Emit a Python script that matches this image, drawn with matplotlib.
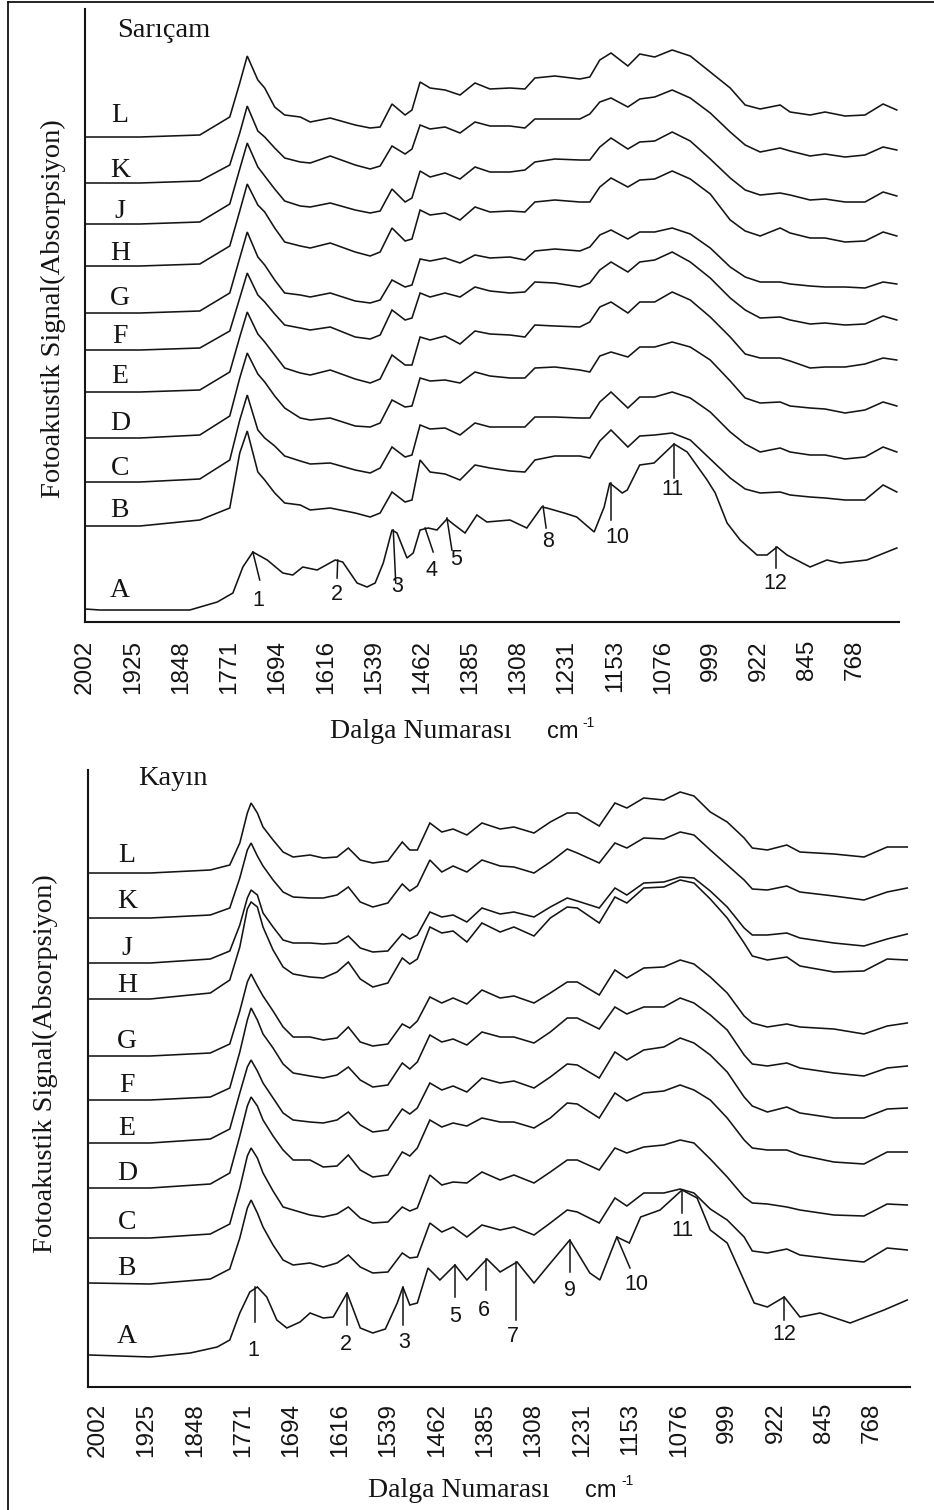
import matplotlib
matplotlib.use('Agg')
import matplotlib.pyplot as plt
from matplotlib.lines import Line2D

# ---------------- data ----------------
series_names = ['A', 'B', 'C', 'D', 'E', 'F', 'G', 'H', 'J', 'K', 'L']
tick_values = [2002, 1925, 1848, 1771, 1694, 1616, 1539, 1462, 1385, 1308,
               1231, 1153, 1076, 999, 922, 845, 768]

# --- Sarıçam (upper panel) ---
sar_wn = [2000, 1914, 1818, 1770, 1754, 1742, 1725, 1714, 1698, 1682,
          1657, 1641, 1609, 1569, 1545, 1529, 1510, 1489, 1478, 1465,
          1449, 1425, 1401, 1377, 1353, 1321, 1297, 1281, 1249, 1209,
          1193, 1177, 1159, 1132, 1113, 1089, 1061, 1032, 1000, 968,
          944, 920, 888, 872, 840, 816, 784, 752, 723, 701]
sar_B = [0, 0, 6, 18, 73, 95, 54, 46, 33, 23, 21, 16, 18, 13, 9, 13, 34, 24, 26, 66,
         54, 52, 46, 61, 58, 55, 54, 66, 70, 70, 68, 85, 96, 79, 90, 91, 93, 86, 67, 48,
         37, 33, 34, 31, 29, 28, 26, 26, 41, 34]
sar_C = [0, 0, 3, 22, 62, 87, 52, 44, 36, 26, 21, 18, 19, 12, 9, 14, 35, 25, 27, 57,
         53, 54, 47, 59, 55, 55, 55, 65, 65, 64, 64, 80, 90, 74, 85, 85, 90, 84, 70, 50,
         38, 30, 34, 30, 27, 27, 23, 25, 35, 30]
sar_D = [0, 0, 3, 22, 60, 85, 64, 56, 42, 30, 20, 18, 20, 12, 11, 15, 38, 31, 32, 60,
         57, 58, 55, 66, 62, 60, 60, 70, 71, 68, 66, 82, 86, 81, 91, 91, 96, 91, 78, 57,
         40, 35, 36, 32, 30, 29, 25, 28, 36, 32]
sar_E = [0, 0, 2, 20, 55, 80, 58, 50, 37, 24, 19, 17, 22, 13, 9, 13, 37, 27, 27, 55,
         52, 56, 48, 61, 58, 57, 55, 67, 66, 65, 70, 85, 90, 79, 90, 90, 100, 92, 75, 55,
         38, 34, 34, 31, 24, 25, 25, 28, 34, 32]
sar_F = [0, 0, 2, 19, 52, 77, 55, 48, 36, 25, 22, 20, 23, 13, 11, 15, 40, 30, 32, 57,
         53, 57, 53, 63, 59, 57, 58, 68, 67, 63, 67, 80, 88, 78, 88, 90, 98, 88, 72, 52,
         40, 32, 33, 30, 26, 27, 25, 26, 34, 30]
sar_G = [0, 0, 2, 20, 55, 81, 56, 48, 33, 20, 18, 16, 20, 12, 10, 13, 33, 26, 28, 54,
         52, 55, 50, 58, 55, 56, 53, 62, 64, 62, 66, 78, 83, 74, 81, 81, 85, 79, 65, 46,
         36, 31, 31, 29, 27, 26, 26, 25, 31, 29]
sar_H = [0, 0, 2, 20, 55, 82, 61, 54, 38, 24, 20, 18, 23, 14, 10, 14, 38, 25, 27, 56,
         51, 53, 46, 59, 54, 55, 54, 64, 66, 64, 64, 79, 88, 79, 86, 87, 95, 87, 72, 46,
         35, 30, 38, 33, 28, 28, 24, 25, 34, 30]
sar_J = [0, 0, 2, 20, 55, 81, 57, 48, 35, 23, 18, 17, 21, 14, 11, 13, 35, 22, 26, 53,
         47, 51, 45, 57, 52, 52, 54, 62, 65, 64, 64, 77, 86, 75, 82, 83, 92, 83, 65, 46,
         34, 29, 31, 29, 24, 25, 22, 22, 32, 28]
sar_K = [0, 0, 2, 18, 50, 77, 52, 46, 35, 25, 21, 20, 27, 18, 14, 17, 37, 29, 34, 58,
         54, 56, 50, 61, 57, 57, 55, 64, 64, 64, 69, 81, 85, 76, 84, 86, 93, 85, 70, 51,
         38, 31, 35, 32, 27, 29, 26, 28, 36, 33]
sar_L = [0, 0, 2, 20, 54, 81, 57, 49, 30, 22, 20, 15, 19, 12, 9, 10, 33, 22, 27, 55,
         49, 47, 42, 54, 48, 49, 48, 59, 61, 58, 60, 77, 84, 71, 83, 80, 87, 81, 65, 49,
         32, 28, 32, 25, 22, 25, 21, 22, 33, 27]
sar_A_wn = [2002, 1978, 1834, 1790, 1765, 1749, 1733, 1710, 1685, 1669,
            1653, 1630, 1601, 1589, 1566, 1550, 1537, 1524, 1510, 1502,
            1486, 1476, 1465, 1452, 1438, 1422, 1412, 1393, 1374, 1358,
            1321, 1294, 1270, 1262, 1234, 1214, 1186, 1170, 1161, 1141,
            1133, 1113, 1090, 1058, 1037, 1005, 992, 973, 952, 925,
            909, 893, 877, 840, 813, 792, 749, 701]
sar_A = [0, -1, -1, 7, 16, 42, 57, 49, 36, 34, 42, 39, 49, 47, 26, 22, 26, 46, 79, 76,
         51, 56, 79, 81, 79, 90, 85, 76, 94, 87, 89, 81, 102, 101, 96, 92, 77, 102, 126, 116,
         119, 144, 146, 165, 157, 129, 116, 86, 69, 54, 54, 62, 54, 42, 49, 46, 49, 61]
sar_offsets = [13, 96, 140, 184, 230, 272, 309, 356, 398, 439, 485]

sar_peak_labels = ['1', '2', '3', '4', '5', '8', '10', '11', '12']
sar_peak_tip_wn = [1733, 1597, 1508, 1457, 1422, 1268, 1159, 1058, 895]
sar_peak_tip_y = [70, 62, 92, 94, 104, 116, 139, 178, 75]
sar_peak_end_wn = [1722, 1598, 1504, 1444, 1414, 1263, 1159, 1058, 895]
sar_peak_end_y = [42, 44, 39, 70, 72, 94, 102, 144, 54]
sar_peak_txt_wn = [1725, 1598, 1502, 1446, 1407, 1260, 1149, 1061, 895]
sar_peak_txt_y = [21, 27, 35, 51, 62, 80, 84, 132, 38]

# --- Kayın (lower panel) ---
kay_wn = [2015, 1919, 1823, 1792, 1776, 1764, 1758, 1748, 1739, 1723,
          1707, 1691, 1664, 1643, 1621, 1603, 1584, 1564, 1540, 1517,
          1505, 1493, 1473, 1454, 1436, 1414, 1390, 1361, 1339, 1307,
          1281, 1254, 1238, 1203, 1178, 1159, 1132, 1100, 1074, 1052,
          1026, 999, 972, 959, 935, 904, 883, 829, 781, 744, 712]
kay_B = [0, -1, 4, 14, 45, 75, 83, 70, 56, 38, 23, 18, 20, 16, 20, 28, 16, 10, 11, 30,
         25, 26, 60, 51, 56, 46, 58, 53, 56, 48, 60, 73, 71, 60, 85, 77, 90, 90, 94, 90,
         74, 63, 46, 32, 30, 34, 28, 24, 21, 35, 33]
kay_C = [0, 0, 4, 14, 50, 82, 90, 80, 65, 47, 31, 28, 23, 21, 24, 31, 20, 15, 16, 31,
         27, 30, 63, 53, 56, 55, 66, 58, 63, 55, 66, 78, 78, 68, 90, 85, 91, 93, 98, 95,
         79, 61, 41, 35, 34, 31, 28, 23, 22, 34, 33]
kay_D = [0, 0, 4, 15, 52, 82, 91, 82, 68, 52, 38, 28, 28, 21, 22, 33, 18, 11, 13, 36,
         32, 40, 68, 61, 65, 62, 70, 66, 66, 60, 70, 85, 84, 70, 95, 87, 95, 97, 103, 98,
         88, 70, 48, 40, 38, 38, 33, 26, 24, 36, 36]
kay_E = [0, 0, 4, 14, 50, 76, 83, 72, 60, 45, 30, 23, 21, 20, 23, 31, 18, 11, 13, 34,
         29, 35, 60, 53, 57, 51, 65, 60, 62, 55, 66, 79, 78, 65, 91, 83, 93, 96, 105, 100,
         88, 71, 46, 37, 31, 36, 30, 25, 25, 34, 35]
kay_F = [0, 0, 3, 12, 48, 80, 92, 80, 66, 52, 36, 27, 24, 22, 25, 33, 20, 13, 15, 37,
         31, 38, 65, 58, 61, 55, 68, 63, 63, 57, 68, 82, 82, 71, 93, 86, 93, 93, 102, 97,
         85, 70, 45, 36, 34, 37, 32, 27, 24, 32, 34]
kay_G = [0, 0, 3, 12, 45, 74, 82, 70, 60, 45, 29, 19, 19, 16, 18, 29, 14, 10, 12, 32,
         28, 35, 59, 53, 58, 52, 66, 58, 60, 53, 63, 74, 74, 61, 86, 78, 88, 89, 96, 92,
         79, 63, 40, 33, 29, 32, 29, 27, 22, 30, 33]
kay_H = [0, 0, 6, 19, 52, 90, 97, 92, 72, 49, 32, 25, 22, 21, 27, 37, 20, 12, 16, 41,
         35, 40, 72, 66, 68, 57, 76, 67, 72, 63, 81, 92, 91, 76, 102, 96, 111, 112, 119, 116,
         100, 81, 56, 43, 39, 42, 33, 27, 28, 40, 39]
kay_J = [0, 0, 4, 12, 38, 65, 73, 68, 50, 36, 23, 20, 20, 19, 20, 27, 15, 11, 12, 29,
         24, 28, 51, 46, 48, 41, 55, 49, 51, 46, 56, 65, 62, 55, 75, 68, 80, 81, 86, 85,
         72, 56, 35, 28, 28, 30, 25, 20, 17, 24, 29]
kay_K = [0, 0, 3, 10, 40, 68, 75, 62, 52, 38, 26, 21, 20, 20, 23, 31, 16, 11, 15, 34,
         27, 32, 58, 46, 52, 46, 58, 52, 51, 45, 56, 69, 65, 55, 75, 70, 80, 79, 86, 83,
         68, 53, 38, 29, 28, 32, 26, 22, 18, 26, 30]
kay_L = [0, 0, 3, 8, 30, 60, 70, 60, 46, 33, 21, 16, 18, 15, 16, 25, 13, 10, 12, 31,
         23, 23, 50, 41, 44, 38, 50, 44, 46, 40, 51, 60, 60, 47, 70, 65, 75, 73, 81, 77,
         61, 51, 35, 25, 23, 28, 21, 19, 16, 26, 26]
kay_A_wn = [2015, 1919, 1855, 1812, 1792, 1776, 1760, 1748, 1733, 1717,
            1701, 1680, 1664, 1643, 1627, 1605, 1584, 1564, 1544, 1525,
            1516, 1505, 1493, 1476, 1457, 1433, 1414, 1382, 1361, 1334,
            1307, 1286, 1250, 1218, 1202, 1175, 1155, 1137, 1106, 1071,
            1047, 1026, 999, 956, 935, 908, 883, 851, 803, 749, 712]
kay_A = [0, -2, 2, 8, 15, 42, 63, 68, 58, 35, 27, 33, 42, 37, 38, 62, 27, 22, 26, 52,
         68, 50, 52, 87, 75, 90, 75, 96, 83, 93, 72, 88, 115, 82, 75, 118, 112, 138, 145, 165,
         157, 125, 112, 52, 48, 58, 38, 42, 32, 45, 55]
kay_offsets = [32, 104, 149, 199, 244, 287, 331, 388, 424, 469, 514]

kay_peak_labels = ['1', '2', '3', '5', '6', '7', '9', '10', '11', '12']
kay_peak_tip_wn = [1752, 1605, 1516, 1433, 1383, 1336, 1250, 1175, 1071, 908]
kay_peak_tip_y = [100, 94, 100, 122, 128, 125, 147, 150, 197, 90]
kay_peak_end_wn = [1752, 1605, 1516, 1433, 1383, 1336, 1250, 1154, 1071, 908]
kay_peak_end_y = [65, 62, 62, 90, 97, 67, 115, 119, 174, 67]
kay_peak_txt_wn = [1755, 1607, 1514, 1433, 1387, 1340, 1250, 1144, 1071, 908]
kay_peak_txt_y = [37, 42, 44, 71, 76, 51, 96, 102, 156, 52]

# ---------------- layout / style ----------------
W, H = 934, 1510
SERIF = ['Liberation Serif', 'DejaVu Serif']
SANS = ['Liberation Sans', 'DejaVu Sans']
INK = '#141414'

fig = plt.figure(figsize=(W / 100, H / 100), dpi=100)
fig.patch.set_facecolor('white')


def fx(px):
    return px / W


def fy(py):
    return 1 - py / H


def make_panel(rect, xlim, ylim, tick_pad):
    ax = fig.add_axes(rect)
    ax.set_xlim(*xlim)
    ax.set_ylim(*ylim)
    for s in ('top', 'right'):
        ax.spines[s].set_visible(False)
    for s in ('left', 'bottom'):
        ax.spines[s].set_linewidth(1.5)
        ax.spines[s].set_color(INK)
    ax.set_yticks([])
    ax.set_xticks(tick_values)
    ax.set_xticklabels([str(t) for t in tick_values], rotation=90,
                       family=SANS, fontsize=17.5, color=INK)
    ax.tick_params(axis='x', length=0, pad=tick_pad)
    ax.patch.set_alpha(0)
    return ax


# upper panel: axis x 85..899 px, y 9..622 px
ax1 = make_panel([fx(85), fy(622), fx(899) - fx(85), fy(9) - fy(622)],
                 (2002, 697.5), (0, 613), 13)
# lower panel: axis x 88..910 px, y 770..1387 px
ax2 = make_panel([fx(88), fy(1387), fx(910) - fx(88), fy(770) - fy(1387)],
                 (2018, 707.6), (0, 617), 11.5)

sar_curves = [sar_A, sar_B, sar_C, sar_D, sar_E, sar_F, sar_G, sar_H, sar_J, sar_K, sar_L]
kay_curves = [kay_A, kay_B, kay_C, kay_D, kay_E, kay_F, kay_G, kay_H, kay_J, kay_K, kay_L]

sar_label_dy = [12, 9, 7, 8, 9, 7, 8, 6, 6, 6, 15]
kay_label_dy = [12, 8, 9, 8, 8, 8, 8, 7, 8, 10, 11]


def draw_panel(ax, curves, wn_main, wn_a, offsets, label_dy, label_x,
               p_lab, p_tw, p_ty, p_ew, p_ey, p_xw, p_xy):
    for i, (name, vals) in enumerate(zip(series_names, curves)):
        xs = wn_a if name == 'A' else wn_main
        ys = [v + offsets[i] for v in vals]
        ax.plot(xs, ys, color=INK, lw=1.15, solid_joinstyle='miter')
        ax.text(label_x, offsets[i] + label_dy[i], name, family=SERIF,
                fontsize=20, ha='center', va='baseline', color=INK)
    for lab, tw, ty, ew, ey, xw, xy in zip(p_lab, p_tw, p_ty, p_ew, p_ey, p_xw, p_xy):
        ax.plot([tw, ew], [ty, ey], color=INK, lw=1.1)
        ax.text(xw, xy, lab, family=SANS, fontsize=15.5, ha='center',
                va='center', color=INK)


draw_panel(ax1, sar_curves, sar_wn, sar_A_wn, sar_offsets, sar_label_dy, 1946,
           sar_peak_labels, sar_peak_tip_wn, sar_peak_tip_y, sar_peak_end_wn,
           sar_peak_end_y, sar_peak_txt_wn, sar_peak_txt_y)
draw_panel(ax2, kay_curves, kay_wn, kay_A_wn, kay_offsets, kay_label_dy, 1956,
           kay_peak_labels, kay_peak_tip_wn, kay_peak_tip_y, kay_peak_end_wn,
           kay_peak_end_y, kay_peak_txt_wn, kay_peak_txt_y)

# panel titles
ax1.text(1951, 585, 'Sarıçam', family=SERIF, fontsize=20.5, ha='left',
         va='baseline', color=INK)
ax2.text(1938, 602, 'Kayın', family=SERIF, fontsize=20.5, ha='left',
         va='baseline', color=INK)

# axis titles
for (x0, yb, xc, xs, ys) in [(330, 738, 547, 582, 727), (368, 1497, 585, 621, 1485)]:
    fig.text(fx(x0), fy(yb), 'Dalga Numarası', family=SERIF, fontsize=20,
             ha='left', va='baseline', color=INK)
    fig.text(fx(xc), fy(yb), 'cm', family=SANS, fontsize=17, ha='left',
             va='baseline', color=INK)
    fig.text(fx(xs), fy(ys), '-1', family=SANS, fontsize=10, ha='left',
             va='baseline', color=INK)

for (xc, yc) in [(53, 309), (45, 1064)]:
    fig.text(fx(xc), fy(yc), 'Fotoakustik Signal(Absorpsiyon)', family=SERIF,
             fontsize=20.5, rotation=90, ha='center', va='center', color=INK)

# outer frame (left and top edges)
fig.add_artist(Line2D([fx(8), fx(8)], [fy(2), fy(1510)], transform=fig.transFigure,
                      color=INK, lw=1.3))
fig.add_artist(Line2D([fx(8), fx(934)], [fy(2), fy(2)], transform=fig.transFigure,
                      color=INK, lw=1.3))

fig.savefig('out.png', dpi=100, facecolor='white')
